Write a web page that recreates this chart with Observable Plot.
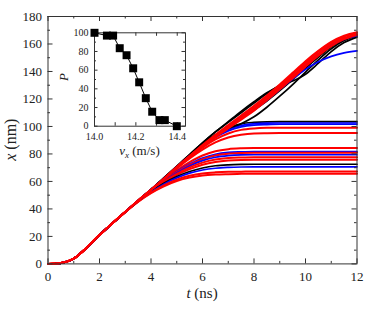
<!DOCTYPE html>
<html><head><meta charset="utf-8">
<script src="https://cdn.jsdelivr.net/npm/d3@7"></script>
<script src="https://cdn.jsdelivr.net/npm/@observablehq/plot@0.6"></script>
<style>
body{margin:0;background:#fff;}
#wrap{position:relative;width:374px;height:312px;}
#wrap svg{position:absolute;left:0;top:0;}
</style></head><body><div id="wrap"></div>
<script>
// ---- main chart data: x (nm) vs t (ns) ----
const tEarly = [0, 0.25, 0.5, 0.75, 1, 1.25, 1.5, 1.75, 2, 2.5, 3];
const xEarly = [0, 0.1, 0.6, 1.8, 3.8, 7.5, 11.8, 16.5, 21, 29.5, 37.8];
const tLate = [3.5, 4, 4.5, 5, 5.5, 6, 6.5, 7, 7.5, 8, 8.5, 9, 9.5, 10, 10.5, 11, 11.5, 12];

// plateau trajectories
const L65r  = [45.2, 51.5, 56.5, 60.3, 62.8, 64.3, 65, 65.3, 65.5, 65.6, 65.6, 65.6, 65.6, 65.6, 65.6, 65.6, 65.6, 65.6];
const L67r  = [45.3, 51.8, 57.2, 61.3, 64.1, 65.8, 66.6, 67, 67.1, 67.2, 67.2, 67.2, 67.2, 67.2, 67.2, 67.2, 67.2, 67.2];
const L70b  = [45.5, 52.2, 58, 62.6, 66, 68.3, 69.6, 70.2, 70.5, 70.6, 70.6, 70.6, 70.6, 70.6, 70.6, 70.6, 70.6, 70.6];
const L72k  = [45.5, 52.5, 58.6, 63.5, 67.2, 69.8, 71.4, 72.1, 72.4, 72.5, 72.5, 72.5, 72.5, 72.5, 72.5, 72.5, 72.5, 72.5];
const L75r  = [45.6, 52.8, 59.3, 64.7, 69, 72.2, 74.2, 75.2, 75.6, 75.7, 75.7, 75.7, 75.7, 75.7, 75.7, 75.7, 75.7, 75.7];
const L77r  = [45.6, 53, 59.8, 65.5, 70.2, 73.7, 75.9, 77, 77.4, 77.6, 77.6, 77.6, 77.6, 77.6, 77.6, 77.6, 77.6, 77.6];
const L79b  = [45.7, 53.2, 60.2, 66.2, 71.2, 75.1, 77.6, 78.8, 79.3, 79.4, 79.4, 79.4, 79.4, 79.4, 79.4, 79.4, 79.4, 79.4];
const L80r  = [45.7, 53.3, 60.5, 66.8, 72, 76.2, 78.9, 80.2, 80.7, 80.9, 80.9, 80.9, 80.9, 80.9, 80.9, 80.9, 80.9, 80.9];
const L81b  = [45.7, 53.4, 60.7, 67.2, 72.6, 77, 79.8, 81.1, 81.5, 81.7, 81.7, 81.7, 81.7, 81.7, 81.7, 81.7, 81.7, 81.7];
const L84r  = [45.8, 53.5, 61, 68, 74, 78.9, 82, 83.5, 84.1, 84.3, 84.3, 84.3, 84.3, 84.3, 84.3, 84.3, 84.3, 84.3];
const L95r  = [45.9, 53.8, 61.8, 69.5, 76.8, 83.2, 88.4, 92, 94, 94.9, 95.1, 95.2, 95.2, 95.2, 95.2, 95.2, 95.2, 95.2];
const L99r  = [45.9, 53.9, 62, 70, 77.6, 84.6, 90.6, 94.9, 97.5, 98.6, 99, 99.1, 99.1, 99.1, 99.1, 99.1, 99.1, 99.1];
const L101b = [46, 54, 62.2, 70.3, 78.2, 85.5, 92, 96.8, 99.7, 101, 101.4, 101.6, 101.6, 101.6, 101.6, 101.6, 101.6, 101.6];
const L102b = [46, 54, 62.3, 70.5, 78.5, 86, 92.8, 97.8, 100.8, 102, 102.4, 102.5, 102.5, 102.5, 102.5, 102.5, 102.5, 102.5];
const L103k = [46.1, 54.1, 62.4, 70.7, 78.8, 86.5, 93.5, 98.8, 101.9, 103, 103.4, 103.5, 103.5, 103.5, 103.5, 103.5, 103.5, 103.5];

// trajectories that keep moving
const Kt1 = [46.1, 54, 62.5, 71, 79.5, 88, 96, 103.5, 111, 118, 124.5, 129.5, 133, 138, 146, 154.5, 161, 165];
const Kt2 = [46.1, 54, 62, 70.5, 79, 87.5, 94, 98.5, 102, 107, 114, 122, 130.5, 139.5, 148.5, 156.5, 162.5, 166];
const Kt3 = [46.1, 54, 62.5, 71, 79.5, 88, 96, 103, 110, 117, 124, 130, 135.5, 142.5, 150.5, 158, 163.5, 166.5];
const Kt4 = [46.1, 54, 62, 70.5, 78.5, 86.5, 93.5, 100, 106, 112, 118.5, 126, 134, 142.5, 151, 158.5, 163.5, 166];
const Bt1 = [46, 53.8, 61.5, 70, 78, 85.5, 92.5, 99, 106, 112.5, 119.5, 127, 134.5, 141.5, 147, 151, 153.5, 155];
const Bt2 = [46.1, 54, 62, 70.5, 78.5, 86, 93, 100, 107, 113.5, 120.5, 128, 136.5, 145, 153, 159.5, 164, 166.5];
const Bt3 = [46, 53.8, 62, 70, 78, 85.5, 92.5, 99.5, 106, 112, 119, 127, 135.5, 144, 152, 159, 163.5, 166];
const Rt1 = [46.1, 54, 62, 70.5, 78.5, 86, 93, 99.5, 106.5, 113.5, 121.5, 129.5, 138, 146.5, 154.5, 161, 165.5, 168];
const Rt2 = [46, 53.8, 61.5, 70, 78, 85.5, 92.5, 99, 106, 113, 120.5, 128.5, 136.5, 145, 153, 160, 164.5, 167];
const Rt3 = [46.1, 54, 62, 70.5, 78.5, 86.5, 94, 101, 108, 115, 122.5, 130.5, 139, 147.5, 155, 161.5, 166, 168.5];
const Rt4 = [46, 53.8, 61.5, 70, 77.5, 85, 92, 98.5, 105, 111.5, 119, 127, 135, 143.5, 151.5, 158.5, 163.5, 166.5];

const RED = "#ff0000", BLUE = "#0000ff", BLACK = "#000000";
const seriesList = [
  [L103k, BLACK], [L102b, BLUE], [L101b, BLUE], [L99r, RED], [L95r, RED],
  [L84r, RED], [L81b, BLUE], [L80r, RED], [L79b, BLUE], [L77r, RED],
  [L75r, RED], [L72k, BLACK], [L70b, BLUE], [L67r, RED], [L65r, RED],
  [Kt1, BLACK], [Kt2, BLACK], [Kt3, BLACK], [Kt4, BLACK],
  [Bt1, BLUE], [Bt2, BLUE], [Bt3, BLUE],
  [Rt1, RED], [Rt2, RED], [Rt3, RED], [Rt4, RED]
];

// ---- inset data: P vs v_x ----
const vx = [14.0, 14.06, 14.09, 14.122, 14.155, 14.187, 14.216, 14.248, 14.279, 14.314, 14.34, 14.398];
const P  = [100, 97, 97, 83.5, 76, 62, 47, 30, 15.5, 6.5, 6.5, 0];

// tick values
const xMajor = [0, 2, 4, 6, 8, 10, 12];
const xMinor = [1, 3, 5, 7, 9, 11];
const yMajor = [0, 20, 40, 60, 80, 100, 120, 140, 160, 180];
const yMinor = [10, 30, 50, 70, 90, 110, 130, 150, 170];
const vMajor = [14.0, 14.2, 14.4];
const vAll = [14.1, 14.2, 14.3, 14.4];
const pMajor = [0, 20, 40, 60, 80, 100];
const pMinor = [10, 30, 50, 70, 90];

const FONT = "'Liberation Serif', 'Times New Roman', serif";

// ---- main plot ----
const W = 374, H = 312, mL = 47.5, mR = 17.5, mT = 16, mB = 48.6;
const iw = W - mL - mR, ih = H - mT - mB;
const lineMarks = seriesList.map(([vals, col]) => {
  const rows = tEarly.map((t, i) => ({t, x: xEarly[i]}))
    .concat(tLate.map((t, i) => ({t, x: vals[i]})));
  return Plot.line(rows, {x: "t", y: "x", stroke: col, strokeWidth: col === RED ? 2 : 1.7, curve: "monotone-x"});
});
const TC = "#333";
const main = Plot.plot({
  width: W, height: H, marginLeft: mL, marginRight: mR, marginTop: mT, marginBottom: mB,
  x: {domain: [0, 12], label: null},
  y: {domain: [0, 180], label: null},
  style: {fontFamily: FONT, fontSize: "13px", background: "white", color: "#222"},
  marks: [
    ...lineMarks,
    Plot.frame({stroke: TC}),
    Plot.ruleX(xMajor, {x: d => d, insetTop: ih - 5, stroke: TC}),
    Plot.ruleX(xMajor, {x: d => d, insetBottom: ih - 5, stroke: TC}),
    Plot.ruleX(xMinor, {x: d => d, insetTop: ih - 2.5, stroke: TC}),
    Plot.ruleX(xMinor, {x: d => d, insetBottom: ih - 2.5, stroke: TC}),
    Plot.ruleY(yMajor, {y: d => d, insetRight: iw - 5, stroke: TC}),
    Plot.ruleY(yMajor, {y: d => d, insetLeft: iw - 5, stroke: TC}),
    Plot.ruleY(yMinor, {y: d => d, insetRight: iw - 2.5, stroke: TC}),
    Plot.ruleY(yMinor, {y: d => d, insetLeft: iw - 2.5, stroke: TC}),
    Plot.axisX({ticks: xMajor, tickSize: 0, tickPadding: 8, label: null, tickFormat: d => String(d)}),
    Plot.axisY({ticks: yMajor, tickSize: 0, tickPadding: 6, label: null, tickFormat: d => String(d)})
  ]
});
document.getElementById("wrap").appendChild(main);
const ms = d3.select(main);
const tl = ms.append("text").attr("x", mL + iw / 2).attr("y", 298).attr("text-anchor", "middle")
  .attr("font-size", 15).attr("fill", "#222").style("font-family", FONT);
tl.append("tspan").attr("font-style", "italic").text("t");
tl.append("tspan").text(" (ns)");
const yl = ms.append("text").attr("transform", `translate(16,${mT + ih / 2}) rotate(-90)`).attr("text-anchor", "middle")
  .attr("font-size", 16).attr("fill", "#222").style("font-family", FONT);
yl.append("tspan").attr("font-style", "italic").text("x");
yl.append("tspan").text(" (nm)");

// ---- inset plot ----
const IW = 200, IH = 170, iL = 94, iR = 15, iT = 32.3, iB = 44.3;
const iiw = IW - iL - iR, iih = IH - iT - iB;
const pts = vx.map((v, i) => ({v, p: P[i]}));
const inset = Plot.plot({
  width: IW, height: IH, marginLeft: iL, marginRight: iR, marginTop: iT, marginBottom: iB,
  x: {domain: [14.0, 14.44], label: null},
  y: {domain: [0, 100], label: null},
  style: {fontFamily: FONT, fontSize: "10px", background: "transparent", color: "#222", overflow: "visible"},
  marks: [
    Plot.frame({fill: "white", stroke: TC}),
    Plot.ruleX(vAll, {x: d => d, insetTop: iih - 3.5, stroke: TC}),
    Plot.ruleX(vAll, {x: d => d, insetBottom: iih - 3.5, stroke: TC}),
    Plot.ruleY(pMajor, {y: d => d, insetRight: iiw - 3.5, stroke: TC}),
    Plot.ruleY(pMajor, {y: d => d, insetLeft: iiw - 3.5, stroke: TC}),
    Plot.ruleY(pMinor, {y: d => d, insetRight: iiw - 2, stroke: TC}),
    Plot.ruleY(pMinor, {y: d => d, insetLeft: iiw - 2, stroke: TC}),
    Plot.line(pts, {x: "v", y: "p", stroke: "black", strokeWidth: 1}),
    Plot.dot(pts, {x: "v", y: "p", symbol: "square", fill: "black", stroke: "none", r: 4.5}),
    Plot.axisX({ticks: vMajor, tickSize: 0, tickPadding: 6.5, label: null, tickFormat: d => d.toFixed(1)}),
    Plot.axisY({ticks: pMajor, tickSize: 0, tickPadding: 6, label: null, tickFormat: d => String(d)})
  ]
});
document.getElementById("wrap").appendChild(inset);
const is = d3.select(inset);
is.append("text").attr("transform", `translate(68,${iT + iih / 2 - 2}) rotate(-90)`).attr("text-anchor", "middle")
  .attr("font-size", 13).attr("font-style", "italic").attr("fill", "#222")
  .style("font-family", FONT).text("P");
const vl = is.append("text").attr("x", iL + iiw / 2).attr("y", 155).attr("text-anchor", "middle")
  .attr("font-size", 13).attr("fill", "#222").style("font-family", FONT);
vl.append("tspan").attr("font-style", "italic").text("v");
vl.append("tspan").attr("font-style", "italic").attr("font-size", 9).attr("dy", 3).text("x");
vl.append("tspan").attr("dy", -3).text(" (m/s)");
</script></body></html>
